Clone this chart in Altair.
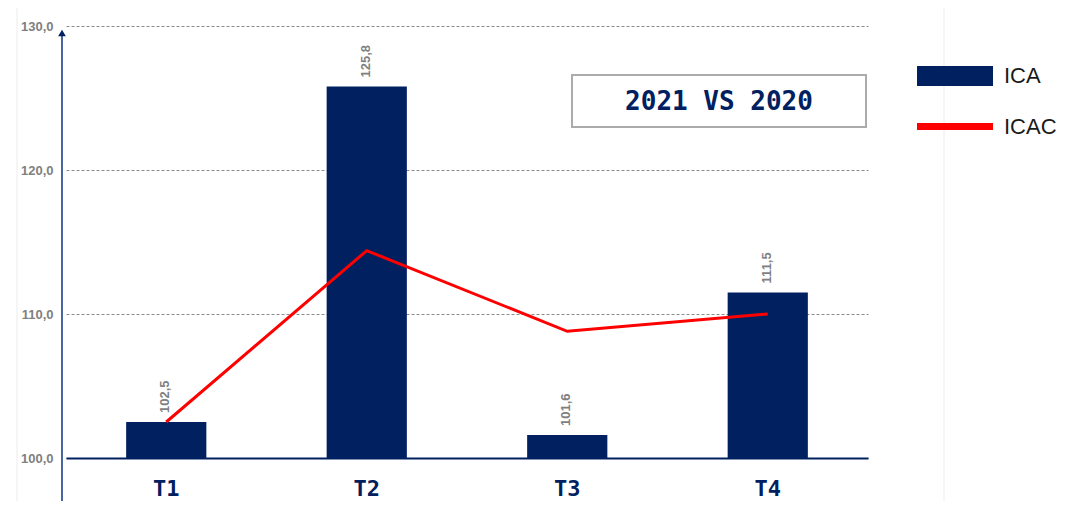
import altair as alt
import pandas as pd

quarters = ["T1", "T2", "T3", "T4"]
ica = [102.5, 125.8, 101.6, 111.5]
icac = [102.5, 114.4, 108.8, 110.0]
series = ["ICA", "ICAC"]
title_text = "2021 VS 2020"
y_ticks = [100, 110, 120, 130]

NAVY = "#002060"
RED = "#ff0000"

df = pd.DataFrame({"q": quarters, "ica": ica, "icac": icac})

x_enc = alt.X("q:N", sort=quarters, title=None,
              scale=alt.Scale(paddingInner=0.6, paddingOuter=0.3),
              axis=alt.Axis(labelFont="DejaVu Sans Mono", labelFontWeight="bold",
                            labelFontSize=22, labelColor=NAVY, labelAngle=0,
                            labelPadding=20, ticks=False, domain=True,
                            domainColor=NAVY, domainWidth=2, grid=False))
y_scale = alt.Scale(domain=[100, 130], nice=False, zero=False)

base = alt.Chart(df)

bars = base.mark_bar(color=NAVY).encode(
    x=x_enc,
    y=alt.Y("ica:Q", scale=y_scale, title=None,
            axis=alt.Axis(values=y_ticks,
                          labelExpr="replace(format(datum.value,'.1f'),'.',',')",
                          labelColor="#808080", labelFontWeight="bold",
                          labelFont="Liberation Sans", labelFontSize=13,
                          labelPadding=13, ticks=False, domain=False,
                          grid=True, gridColor="#8c8c8c", gridDash=[3, 2],
                          gridWidth=1)),
    y2=alt.datum(100),
)

labels = base.transform_calculate(
    lbl="replace(format(datum.ica,'.1f'),'.',',')"
).mark_text(angle=270, align="left", baseline="middle", dx=9, dy=-1,
            font="Liberation Sans", fontWeight="bold", fontSize=13,
            color="#7f7f7f").encode(
    x=alt.X("q:N", sort=quarters),
    y=alt.Y("ica:Q", scale=y_scale),
    text="lbl:N",
)

line = base.mark_line(color=RED, strokeWidth=3).encode(
    x=alt.X("q:N", sort=quarters),
    y=alt.Y("icac:Q", scale=y_scale),
)

one = alt.Data(values=[{}])

frame = alt.Chart(one).mark_rect(fill=None, stroke="#ececec", strokeWidth=1).encode(
    x=alt.value(-49), x2=alt.value(878), y=alt.value(-20), y2=alt.value(495))

yline = alt.Chart(one).mark_rule(color="#4a66a0", strokeWidth=2).encode(
    x=alt.value(-4), y=alt.value(6), y2=alt.value(490))

arrow = alt.Chart(one).mark_point(shape="triangle-up", filled=True, color=NAVY,
                                  size=60, opacity=1).encode(
    x=alt.value(-4), y=alt.value(7))

box = alt.Chart(one).mark_rect(fill="white", stroke="#ababab", strokeWidth=2).encode(
    x=alt.value(506), x2=alt.value(800), y=alt.value(49), y2=alt.value(101))

box_text = alt.Chart(pd.DataFrame({"t": [title_text]})).mark_text(
    font="DejaVu Sans Mono", fontWeight="bold", fontSize=26, color=NAVY,
    align="center", baseline="middle").encode(
    x=alt.value(653), y=alt.value(76), text="t:N")

leg_rect = alt.Chart(one).mark_rect(color=NAVY).encode(
    x=alt.value(851), x2=alt.value(927), y=alt.value(40), y2=alt.value(60))
leg_line = alt.Chart(one).mark_rule(color=RED, strokeWidth=7).encode(
    x=alt.value(851), x2=alt.value(927), y=alt.value(100.5))
leg_text1 = alt.Chart(pd.DataFrame({"s": [series[0]]})).mark_text(
    font="Liberation Sans", fontSize=22, color="#1a1a1a", align="left",
    baseline="middle").encode(x=alt.value(938), y=alt.value(50), text="s:N")
leg_text2 = alt.Chart(pd.DataFrame({"s": [series[1]]})).mark_text(
    font="Liberation Sans", fontSize=22, color="#1a1a1a", align="left",
    baseline="middle").encode(x=alt.value(938), y=alt.value(101), text="s:N")

chart = alt.layer(
    frame, bars, line, labels, yline, arrow, box, box_text,
    leg_rect, leg_line, leg_text1, leg_text2
).properties(
    width=802, height=432,
    autosize=alt.AutoSizeParams(type="none"),
    padding={"left": 58, "top": 18, "right": 190, "bottom": 43},
    background="white",
).configure_view(stroke=None)

chart.save("out.html", embed_options={"renderer": "svg", "actions": False})
